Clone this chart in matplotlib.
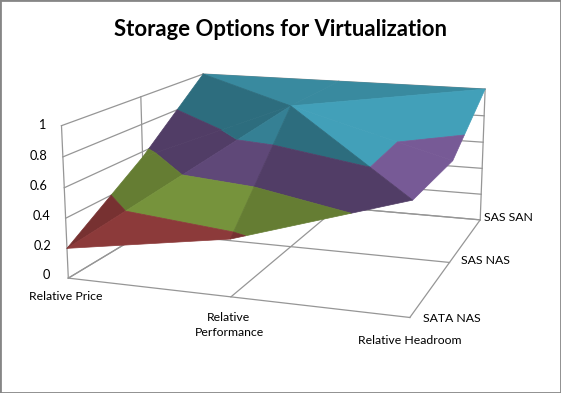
import matplotlib
matplotlib.use('Agg')
import matplotlib.pyplot as plt
import numpy as np
from matplotlib.patches import Rectangle
from mpl_toolkits.mplot3d.art3d import Poly3DCollection

plt.rcParams['font.family'] = ['Lato', 'DejaVu Sans']

W, H = 561, 393

measures = ['Relative Price', 'Relative\nPerformance', 'Relative Headroom']
storage = ['SATA NAS', 'SAS NAS', 'SAS SAN']
sata_nas = [0.2, 0.37, 0.71]
sas_nas = [0.56, 1.0, 0.70]
sas_san = [1.0, 1.0, 1.0]
z_ticks = [0, 0.2, 0.4, 0.6, 0.8, 1]

band_colors = ['#AF4848', '#94B84B', '#775A96', '#42A0B9']

# facets fan out from the middle cell, each one with its own shade
facets = [((0, 0), (1, 0), (1, 1), 0.80),
          ((1, 0), (2, 0), (1, 1), 0.68),
          ((2, 0), (2, 1), (1, 1), 1.00),
          ((2, 1), (2, 2), (1, 1), 1.00),
          ((2, 2), (1, 2), (1, 1), 0.86),
          ((1, 2), (0, 2), (1, 1), 0.86),
          ((0, 2), (0, 1), (1, 1), 0.68),
          ((0, 1), (0, 0), (1, 1), 0.68)]


def clip(poly, level, keep_above):
    # cut a polygon at a height, keeps the part above or below
    out = []
    for i in range(len(poly)):
        a, b = np.array(poly[i]), np.array(poly[(i + 1) % len(poly)])
        a_in = a[2] >= level if keep_above else a[2] <= level
        b_in = b[2] >= level if keep_above else b[2] <= level
        if a_in:
            out.append(a)
        if a_in != b_in:
            t = (level - a[2]) / (b[2] - a[2])
            out.append(a + t * (b - a))
    return out


def px(x):
    return x / W


def py(y):
    return 1 - y / H


grid = np.array([sata_nas, sas_nas, sas_san])

fig = plt.figure(figsize=(W / 100, H / 100), dpi=100)
size = 500
ax = fig.add_axes([34 / W, -41 / H, size / W, size / H], projection='3d', computed_zorder=False)
ax.set_proj_type('persp', focal_length=0.45)
ax.view_init(elev=13.5, azim=-71)
ax.set_box_aspect((329, 330, 146), zoom=0.94)
ax.set_axis_off()
ax.patch.set_alpha(0)

grey = '#969696'
# floor
for i in range(3):
    ax.plot([i, i], [0, 2], [0, 0], color=grey, lw=0.9, zorder=1)
    ax.plot([0, 2], [i, i], [0, 0], color=grey, lw=0.9, zorder=1)
# walls
for t in z_ticks:
    ax.plot([0, 0], [0, 2], [t, t], color=grey, lw=0.9, zorder=1)
    ax.plot([0, 2], [2, 2], [t, t], color=grey, lw=0.9, zorder=1)
for i in range(3):
    ax.plot([0, 0], [i, i], [0, 1], color=grey, lw=0.9, zorder=1)
    ax.plot([i, i], [2, 2], [0, 1], color=grey, lw=0.9, zorder=1)

polys = []
colors = []
for p0, p1, p2, shade in facets:
    tri = [(p[0], p[1], grid[p[1], p[0]]) for p in (p0, p1, p2)]
    for b, col in enumerate(band_colors):
        lo, hi = 0.2 * (b + 1), 0.2 * (b + 2)
        part = clip(tri, lo, True)
        if len(part) > 2:
            part = clip(part, hi, False)
        if len(part) > 2:
            polys.append(part)
            rgb = np.array(matplotlib.colors.to_rgb(col)) * shade
            colors.append(rgb)
surf = Poly3DCollection(polys, facecolors=colors, edgecolors=colors, linewidths=0.5, zorder=2)
ax.add_collection3d(surf)

ax.set_xlim(0, 2, view_margin=0)
ax.set_ylim(0, 2, view_margin=0)
ax.set_zlim(0, 1, view_margin=0)

fig.text(px(281), py(30), 'Storage Options for Virtualization', fontsize=15.9, fontweight='bold',
         ha='center', va='center', color='black')

z_right = [50, 51, 50, 48, 47, 45]
z_y = [275, 246, 216, 186, 156, 125]
for t, xr, yy in zip(z_ticks, z_right, z_y):
    fig.text(px(xr), py(yy), str(t), fontsize=9.2, ha='right', va='center', color='black')

for name, xx, yy in zip(measures, [66, 229, 410], [297, 325, 341]):
    fig.text(px(xx), py(yy), name, fontsize=8.8, ha='center', va='center', color='black', linespacing=1.4)

for name, xx, yy in zip(storage, [423, 461, 484], [319, 261, 218]):
    fig.text(px(xx), py(yy), name, fontsize=8.8, ha='left', va='center', color='black')

fig.add_artist(Rectangle((0, 0), 1, 1, transform=fig.transFigure, fill=False, edgecolor='#868686', lw=2))

fig.savefig('out.png', dpi=100)
